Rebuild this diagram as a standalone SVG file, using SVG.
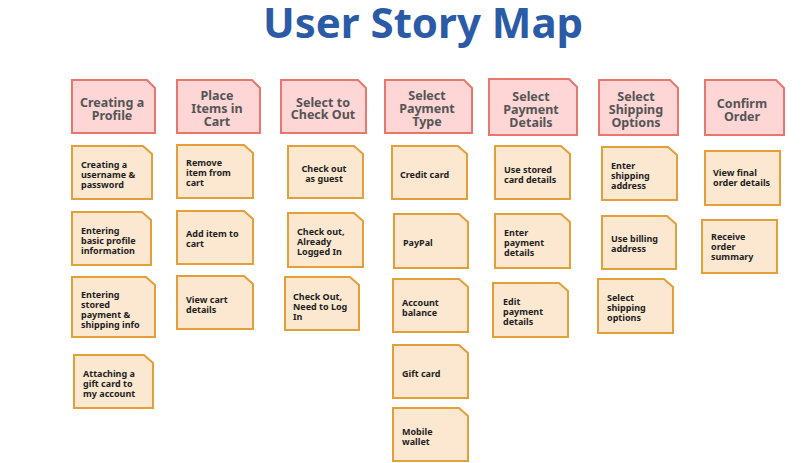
<svg xmlns="http://www.w3.org/2000/svg" width="807" height="463" viewBox="0 0 807 463">
<style>
.bg{fill:#ffffff}
.title{font-family:"Noto Sans","Liberation Sans",sans-serif;font-weight:700;font-size:42px;fill:#2B5BA6;text-anchor:middle}
.hd{fill:#FDD6D5;stroke:#E8776E;stroke-width:2}
.st{fill:#FCE8D0;stroke:#E3A03A;stroke-width:2}
.ht{font-family:"Noto Sans","Liberation Sans",sans-serif;font-weight:700;font-size:12.5px;fill:#555555;text-anchor:middle}
.ct{font-family:"Noto Sans","Liberation Sans",sans-serif;font-weight:700;font-size:9px;fill:#1E1E1E}
.cc{text-anchor:middle}
</style>
<rect class="bg" x="0" y="0" width="807" height="463"/>
<text class="title" x="423" y="38">User Story Map</text>

<!-- Column 1 -->
<g id="h1"><path class="hd" d="M72,80 H147 L155,88 V133 H72 Z"/><text class="ht"><tspan x="112" y="106.5">Creating a</tspan><tspan x="112" y="120">Profile</tspan></text></g>
<g id="s1a"><path class="st" d="M72,146 H143 L152,154 V199 H72 Z"/><text class="ct"><tspan x="81" y="168">Creating a</tspan><tspan x="81" y="178">username &amp;</tspan><tspan x="81" y="188">password</tspan></text></g>
<g id="s1b"><path class="st" d="M72,212 H142 L151,220 V265 H72 Z"/><text class="ct"><tspan x="81" y="234">Entering</tspan><tspan x="81" y="244">basic profile</tspan><tspan x="81" y="254">information</tspan></text></g>
<g id="s1c"><path class="st" d="M72,277 H146 L155,285 V337 H72 Z"/><text class="ct"><tspan x="81" y="298">Entering</tspan><tspan x="81" y="308">stored</tspan><tspan x="81" y="318">payment &amp;</tspan><tspan x="81" y="328">shipping info</tspan></text></g>
<g id="s1d"><path class="st" d="M74,355 H144 L153,363 V408 H74 Z"/><text class="ct"><tspan x="83" y="377">Attaching a</tspan><tspan x="83" y="387">gift card to</tspan><tspan x="83" y="397">my account</tspan></text></g>

<!-- Column 2 -->
<g id="h2"><path class="hd" d="M177,80 H252 L260,88 V133 H177 Z"/><text class="ht"><tspan x="217" y="99.5">Place</tspan><tspan x="217" y="112.5">Items in</tspan><tspan x="217" y="125.5">Cart</tspan></text></g>
<g id="s2a"><path class="st" d="M177,145 H244 L253,153 V198 H177 Z"/><text class="ct"><tspan x="186" y="166">Remove</tspan><tspan x="186" y="176">item from</tspan><tspan x="186" y="186">cart</tspan></text></g>
<g id="s2b"><path class="st" d="M177,211 H244 L253,219 V264 H177 Z"/><text class="ct"><tspan x="186" y="237">Add item to</tspan><tspan x="186" y="247">cart</tspan></text></g>
<g id="s2c"><path class="st" d="M177,276 H244 L253,284 V329 H177 Z"/><text class="ct"><tspan x="186" y="303">View cart</tspan><tspan x="186" y="313">details</tspan></text></g>

<!-- Column 3 -->
<g id="h3"><path class="hd" d="M281,80 H358 L366,88 V133 H281 Z"/><text class="ht"><tspan x="323" y="106.5">Select to</tspan><tspan x="323" y="119">Check Out</tspan></text></g>
<g id="s3a"><path class="st" d="M288,146 H354 L363,154 V198 H288 Z"/><text class="ct cc"><tspan x="324" y="172">Check out</tspan><tspan x="324" y="182">as guest</tspan></text></g>
<g id="s3b"><path class="st" d="M288,213 H354 L363,221 V267 H288 Z"/><text class="ct"><tspan x="297" y="235">Check out,</tspan><tspan x="297" y="245">Already</tspan><tspan x="297" y="255">Logged In</tspan></text></g>
<g id="s3c"><path class="st" d="M285,277 H350 L359,285 V330 H285 Z"/><text class="ct"><tspan x="293" y="300">Check Out,</tspan><tspan x="293" y="310">Need to Log</tspan><tspan x="293" y="320">In</tspan></text></g>

<!-- Column 4 -->
<g id="h4"><path class="hd" d="M385,80 H464 L472,88 V133 H385 Z"/><text class="ht"><tspan x="427" y="99.5">Select</tspan><tspan x="427" y="112.5">Payment</tspan><tspan x="427" y="125.5">Type</tspan></text></g>
<g id="s4a"><path class="st" d="M392,146 H458 L467,154 V199 H392 Z"/><text class="ct"><tspan x="400" y="178">Credit card</tspan></text></g>
<g id="s4b"><path class="st" d="M394,214 H459 L468,222 V268 H394 Z"/><text class="ct"><tspan x="403" y="246">PayPal</tspan></text></g>
<g id="s4c"><path class="st" d="M393,279 H459 L468,287 V332 H393 Z"/><text class="ct"><tspan x="402" y="306">Account</tspan><tspan x="402" y="316">balance</tspan></text></g>
<g id="s4d"><path class="st" d="M393,345 H459 L468,353 V398 H393 Z"/><text class="ct"><tspan x="402" y="377">Gift card</tspan></text></g>
<g id="s4e"><path class="st" d="M393,408 H459 L468,416 V461 H393 Z"/><text class="ct"><tspan x="402" y="435">Mobile</tspan><tspan x="402" y="445">wallet</tspan></text></g>

<!-- Column 5 -->
<g id="h5"><path class="hd" d="M489,79 H569 L577,87 V135 H489 Z"/><text class="ht"><tspan x="531" y="100.5">Select</tspan><tspan x="531" y="113.5">Payment</tspan><tspan x="531" y="126.5">Details</tspan></text></g>
<g id="s5a"><path class="st" d="M495,146 H561 L570,154 V199 H495 Z"/><text class="ct"><tspan x="504" y="173">Use stored</tspan><tspan x="504" y="183">card details</tspan></text></g>
<g id="s5b"><path class="st" d="M495,214 H561 L570,222 V268 H495 Z"/><text class="ct"><tspan x="504" y="236">Enter</tspan><tspan x="504" y="246">payment</tspan><tspan x="504" y="256">details</tspan></text></g>
<g id="s5c"><path class="st" d="M493,283 H559 L568,291 V337 H493 Z"/><text class="ct"><tspan x="503" y="305">Edit</tspan><tspan x="503" y="315">payment</tspan><tspan x="503" y="325">details</tspan></text></g>

<!-- Column 6 -->
<g id="h6"><path class="hd" d="M599,80 H670 L678,88 V135 H599 Z"/><text class="ht"><tspan x="636" y="100.5">Select</tspan><tspan x="636" y="113.5">Shipping</tspan><tspan x="636" y="126.5">Options</tspan></text></g>
<g id="s6a"><path class="st" d="M602,147 H668 L677,155 V200 H602 Z"/><text class="ct"><tspan x="611" y="169">Enter</tspan><tspan x="611" y="179">shipping</tspan><tspan x="611" y="189">address</tspan></text></g>
<g id="s6b"><path class="st" d="M602,216 H667 L676,224 V269 H602 Z"/><text class="ct"><tspan x="611" y="242">Use billing</tspan><tspan x="611" y="252">address</tspan></text></g>
<g id="s6c"><path class="st" d="M598,279 H664 L673,287 V333 H598 Z"/><text class="ct"><tspan x="607" y="301">Select</tspan><tspan x="607" y="311">shipping</tspan><tspan x="607" y="321">options</tspan></text></g>

<!-- Column 7 -->
<g id="h7"><path class="hd" d="M705,80 H776 L784,88 V135 H705 Z"/><text class="ht"><tspan x="742" y="108">Confirm</tspan><tspan x="742" y="121">Order</tspan></text></g>
<g id="s7a"><rect class="st" x="705" y="151" width="75" height="54"/><text class="ct"><tspan x="713" y="176">View final</tspan><tspan x="713" y="186">order details</tspan></text></g>
<g id="s7b"><rect class="st" x="702" y="220" width="75" height="53"/><text class="ct"><tspan x="711" y="240">Receive</tspan><tspan x="711" y="250">order</tspan><tspan x="711" y="260">summary</tspan></text></g>
</svg>
